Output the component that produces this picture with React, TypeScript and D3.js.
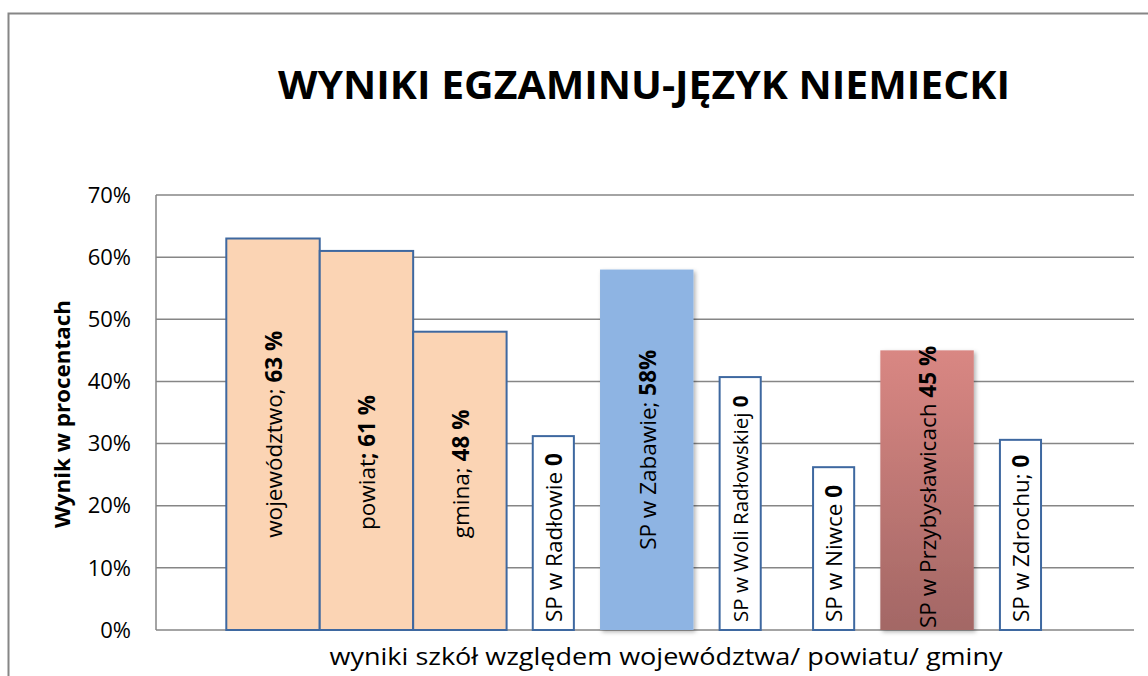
import * as d3 from "d3";

const W = 1148;
const H = 676;

const TITLE = "WYNIKI EGZAMINU-JĘZYK NIEMIECKI";
const Y_TITLE = "Wynik w procentach";
const X_TITLE = "wyniki szkół względem województwa/ powiatu/ gminy";

const categories = [
  "województwo",
  "powiat",
  "gmina",
  "SP w Radłowie",
  "SP w Zabawie",
  "SP w Woli Radłowskiej",
  "SP w Niwce",
  "SP w Przybysławicach",
  "SP w Zdrochu",
];
// bar heights (the "0" schools are white label boxes)
const values = [0.63, 0.61, 0.48, 0.312, 0.58, 0.407, 0.262, 0.45, 0.306];
const labelText = [
  "województwo; ",
  "powiat",
  "gmina; ",
  "SP w Radłowie ",
  "SP w Zabawie; ",
  "SP w Woli Radłowskiej ",
  "SP w Niwce ",
  "SP w Przybysławicach ",
  "SP w Zdrochu; ",
];
const labelBold = ["63 %", "; 61 %", "48  %", "0", "58%", "0", "0", "45 %", "0"];
const kinds = ["area", "area", "area", "box", "blue", "box", "box", "red", "box"];
const yTicks = [0, 0.1, 0.2, 0.3, 0.4, 0.5, 0.6, 0.7];

const FONT = "'Open Sans', 'DejaVu Sans', sans-serif";

export default function App() {
  const left = 156;
  const right = 1134;
  const top = 195;
  const bottom = 630;

  const y = d3.scaleLinear().domain([0, 0.7]).range([bottom, top]);
  const x = d3.scaleBand<string>().domain(categories).range([226.3, 1067.2]).paddingInner(0).paddingOuter(0);
  const bw = x.bandwidth();

  const fillFor = (k: string) =>
    k === "area" ? "#FBD4B4" : k === "blue" ? "#8EB4E3" : k === "red" ? "url(#redGrad)" : "#FFFFFF";

  return (
    <svg
      width={W}
      height={H}
      style={{ position: "absolute", left: 0, top: 0, display: "block" }}
      fontFamily={FONT}
    >
      <defs>
        <linearGradient id="redGrad" x1="0" y1="0" x2="0" y2="1">
          <stop offset="0%" stopColor="#D98783" />
          <stop offset="100%" stopColor="#A36765" />
        </linearGradient>
        <filter id="shadow" x="-20%" y="-10%" width="140%" height="120%">
          <feDropShadow dx="2" dy="2" stdDeviation="2" floodColor="#000" floodOpacity="0.3" />
        </filter>
      </defs>

      <rect x={8.5} y={13.5} width={W + 20} height={H + 20} fill="#fff" stroke="#868686" strokeWidth={2} />

      <text
        x={644}
        y={99}
        textAnchor="middle"
        fontSize={40}
        fontWeight="bold"
        textLength={732}
        lengthAdjust="spacingAndGlyphs"
      >
        {TITLE}
      </text>

      {/* grid */}
      {yTicks.map((t) => (
        <line key={t} x1={left} x2={right} y1={y(t)} y2={y(t)} stroke="#868686" strokeWidth={1.5} />
      ))}
      <line x1={left} x2={left} y1={top} y2={bottom} stroke="#868686" strokeWidth={1.5} />

      {yTicks.map((t) => (
        <text key={"l" + t} x={131} y={y(t)} dy="0.35em" textAnchor="end" fontSize={22} fill="#000">
          {d3.format(".0%")(t)}
        </text>
      ))}

      <text
        transform={`translate(70,${414}) rotate(-90)`}
        textAnchor="middle"
        fontSize={21}
        fontWeight="bold"
        textLength={228}
        lengthAdjust="spacingAndGlyphs"
      >
        {Y_TITLE}
      </text>

      {/* bars */}
      {categories.map((c, i) => {
        const k = kinds[i];
        const w = k === "box" ? bw * 0.44 : bw;
        const cx = (x(c) as number) + bw / 2;
        const yTop = y(values[i]);
        return (
          <rect
            key={c}
            x={cx - w / 2}
            y={yTop}
            width={w}
            height={bottom - yTop}
            fill={fillFor(k)}
            stroke={k === "area" || k === "box" ? "#3E68A0" : "none"}
            strokeWidth={2}
            filter={k === "blue" || k === "red" ? "url(#shadow)" : undefined}
          />
        );
      })}

      {/* labels */}
      {categories.map((c, i) => {
        const k = kinds[i];
        const cx = (x(c) as number) + bw / 2;
        const mid = k === "area" || k === "blue";
        const ly = mid ? (y(values[i]) + bottom) / 2 + (i === 1 ? 22 : i === 2 ? -7 : 0) : bottom - (k === "red" ? 2 : 8);
        return (
          <text
            key={"t" + c}
            transform={`translate(${cx + 1},${ly}) rotate(-90)`}
            textAnchor={mid ? "middle" : "start"}
            dy="0.35em"
            fontSize={i === 5 ? 20.5 : 22.5}
            fill="#000"
          >
            {labelText[i]}
            <tspan fontWeight="bold">{labelBold[i]}</tspan>
          </text>
        );
      })}

      <text
        x={666}
        y={665}
        textAnchor="middle"
        fontSize={23}
        textLength={673}
        lengthAdjust="spacingAndGlyphs"
      >
        {X_TITLE}
      </text>
    </svg>
  );
}
